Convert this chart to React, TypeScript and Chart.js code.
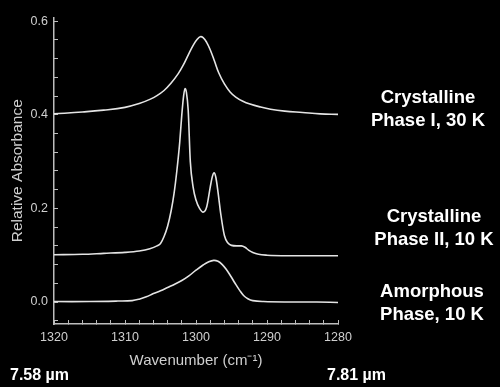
import React, { useEffect, useRef } from "react";
import { Chart, registerables } from "chart.js";

Chart.register(...registerables);

// Wavenumber (cm^-1) samples and relative absorbance for each phase
const phase1Wn = [1320, 1316, 1313, 1310, 1308, 1306.5, 1305.5, 1304.5, 1303.5, 1302.5, 1301.8, 1301.0, 1300.3, 1299.8, 1299.4, 1299.0, 1298.5, 1298.0, 1297.4, 1296.8, 1296.0, 1295.2, 1294.4, 1293.4, 1292.4, 1291.0, 1289.5, 1287.5, 1285, 1282.5, 1280];
const phase1Abs = [0.402, 0.406, 0.41, 0.416, 0.424, 0.433, 0.441, 0.452, 0.468, 0.488, 0.506, 0.531, 0.551, 0.562, 0.567, 0.565, 0.555, 0.539, 0.515, 0.49, 0.466, 0.449, 0.438, 0.429, 0.423, 0.417, 0.412, 0.408, 0.405, 0.402, 0.401];

const phase2Wn = [1320, 1316, 1313, 1310, 1308, 1306.5, 1305.5, 1305.0, 1304.5, 1304.0, 1303.5, 1303.1, 1302.7, 1302.3, 1302.0, 1301.75, 1301.55, 1301.35, 1301.1, 1300.8, 1300.4, 1300.0, 1299.5, 1299.0, 1298.5, 1298.0, 1297.7, 1297.45, 1297.2, 1296.9, 1296.5, 1296.0, 1295.5, 1295.0, 1294.3, 1293.6, 1293.1, 1292.6, 1292.0, 1291.2, 1290, 1287, 1283, 1280];
const phase2Abs = [0.101, 0.102, 0.104, 0.106, 0.109, 0.114, 0.12, 0.125, 0.14, 0.162, 0.195, 0.231, 0.28, 0.34, 0.4, 0.44, 0.456, 0.448, 0.41, 0.3, 0.245, 0.218, 0.2, 0.192, 0.203, 0.245, 0.268, 0.276, 0.266, 0.235, 0.187, 0.142, 0.126, 0.121, 0.12, 0.12, 0.117, 0.111, 0.106, 0.102, 0.1, 0.099, 0.099, 0.099];

const amorphWn = [1320, 1315, 1311, 1309, 1308, 1307, 1306, 1305, 1304, 1303, 1302, 1301, 1300, 1299, 1298.2, 1297.5, 1296.9, 1296.3, 1295.7, 1295.1, 1294.5, 1293.9, 1293.3, 1292.7, 1292.0, 1290.5, 1287, 1283, 1280];
const amorphAbs = [0.001, 0.001, 0.002, 0.003, 0.006, 0.011, 0.018, 0.024, 0.031, 0.038, 0.046, 0.056, 0.068, 0.079, 0.086, 0.089, 0.087, 0.08, 0.069, 0.055, 0.04, 0.026, 0.014, 0.007, 0.003, 0.001, 0.0, 0.0, -0.001];

const xTickValues = [1320, 1310, 1300, 1290, 1280];
const xTickLabels = ["1320", "1310", "1300", "1290", "1280"];
const yTickValues = [0, 0.2, 0.4, 0.6];
const yTickLabels = ["0.0", "0.2", "0.4", "0.6"];

const seriesLabels = [
  ["Crystalline", "Phase I, 30 K"],
  ["Crystalline", "Phase II, 10 K"],
  ["Amorphous", "Phase, 10 K"],
];
const wavelengthLabels = ["7.58 \u00b5m", "7.81 \u00b5m"];

const FONT = '"Liberation Sans", Arial, Helvetica, sans-serif';
const AXIS = "#bdbdbd";
const TICKTXT = "#cfcfcf";
const LINE = "#e4e4e4";

const zip = (xs: number[], ys: number[]) => xs.map((x, i) => ({ x, y: ys[i] }));

const labelFor = (vals: number[], labels: string[], v: number) => {
  const i = vals.findIndex((t) => Math.abs(t - v) < 1e-6);
  return i >= 0 ? labels[i] : "";
};

export default function App() {
  const ref = useRef<HTMLCanvasElement | null>(null);

  useEffect(() => {
    if (!ref.current) return;
    const ds = (data: { x: number; y: number }[], smooth: boolean) => ({
      data,
      borderColor: LINE,
      borderWidth: 1.6,
      pointRadius: 0,
      fill: false,
      tension: smooth ? 0.4 : 0,
      cubicInterpolationMode: smooth ? ("default" as const) : ("monotone" as const),
    });
    const chart = new Chart(ref.current, {
      type: "line",
      data: {
        datasets: [
          ds(zip(phase1Wn, phase1Abs), true),
          ds(zip(phase2Wn, phase2Abs), false),
          ds(zip(amorphWn, amorphAbs), true),
        ],
      },
      options: {
        animation: false,
        responsive: false,
        maintainAspectRatio: false,
        devicePixelRatio: 1,
        layout: { padding: { left: 0, right: 162, top: 16, bottom: 0 } },
        plugins: { legend: { display: false }, tooltip: { enabled: false } },
        scales: {
          x: {
            type: "linear",
            reverse: true,
            min: 1280,
            max: 1320,
            position: "bottom",
            afterFit: (s: any) => {
              s.height = 63;
            },
            grid: { drawOnChartArea: false, drawTicks: true, tickLength: -4, color: AXIS, lineWidth: 1 },
            border: { display: true, color: AXIS, width: 1.5 },
            ticks: {
              stepSize: 2,
              includeBounds: false,
              autoSkip: false,
              maxRotation: 0,
              padding: 10,
              color: TICKTXT,
              font: { family: FONT, size: 12.5 },
              callback: (v: any) => labelFor(xTickValues, xTickLabels, Number(v)),
            },
            title: {
              display: true,
              text: "Wavenumber (cm\u207b\u00b9)",
              color: TICKTXT,
              font: { family: FONT, size: 15 },
              padding: { top: 0, bottom: 17.5 },
            },
          },
          y: {
            type: "linear",
            min: -0.047,
            max: 0.608,
            afterFit: (s: any) => {
              s.width = 54;
            },
            grid: { drawOnChartArea: false, drawTicks: true, tickLength: -4, color: AXIS, lineWidth: 1 },
            border: { display: true, color: AXIS, width: 1.5 },
            ticks: {
              stepSize: 0.04,
              includeBounds: false,
              autoSkip: false,
              padding: 10,
              color: TICKTXT,
              font: { family: FONT, size: 12.5 },
              callback: (v: any) => labelFor(yTickValues, yTickLabels, Number(v)),
            },
            title: {
              display: true,
              text: "Relative Absorbance",
              color: TICKTXT,
              font: { family: FONT, size: 15.5 },
              padding: { top: 8.5, bottom: 0 },
            },
          },
        },
      },
    } as any);
    return () => chart.destroy();
  }, []);

  const seriesLabelPos = [
    { cx: 428, top: 85 },
    { cx: 434, top: 204 },
    { cx: 432, top: 279 },
  ];

  return (
    <div
      style={{
        position: "fixed",
        left: 0,
        top: 0,
        width: 500,
        height: 387,
        background: "#000",
        overflow: "hidden",
      }}
    >
      <canvas ref={ref} width={500} height={387} style={{ position: "absolute", left: 0, top: 0, width: 500, height: 387 }} />
      {seriesLabels.map((lines, i) => (
        <div
          key={i}
          style={{
            position: "absolute",
            left: seriesLabelPos[i].cx - 70,
            width: 140,
            top: seriesLabelPos[i].top,
            textAlign: "center",
            color: "#fff",
            fontFamily: FONT,
            fontWeight: "bold",
            fontSize: 18.5,
            lineHeight: "23px",
            whiteSpace: "nowrap",
          }}
        >
          {lines.map((l, j) => (
            <div key={j}>{l}</div>
          ))}
        </div>
      ))}
      <div
        style={{
          position: "absolute",
          left: 10,
          top: 365,
          color: "#fff",
          fontFamily: FONT,
          fontWeight: "bold",
          fontSize: 16,
          lineHeight: "20px",
          whiteSpace: "nowrap",
        }}
      >
        {wavelengthLabels[0]}
      </div>
      <div
        style={{
          position: "absolute",
          left: 327,
          top: 365,
          color: "#fff",
          fontFamily: FONT,
          fontWeight: "bold",
          fontSize: 16,
          lineHeight: "20px",
          whiteSpace: "nowrap",
        }}
      >
        {wavelengthLabels[1]}
      </div>
    </div>
  );
}
